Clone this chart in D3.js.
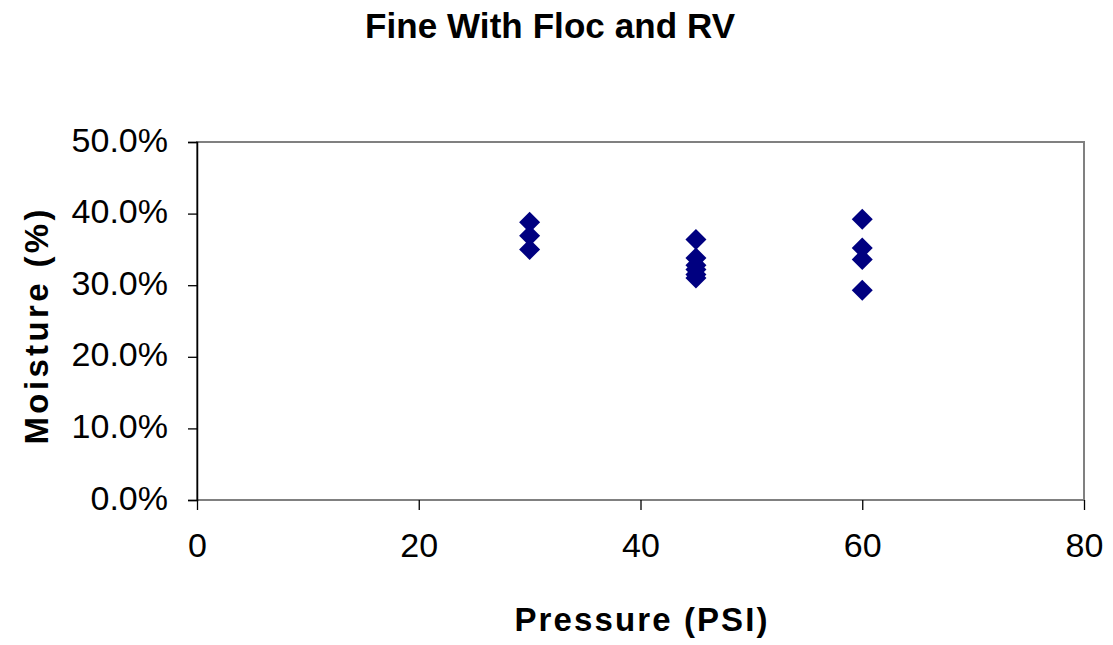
<!DOCTYPE html>
<html>
<head>
<meta charset="utf-8">
<script src="https://cdn.jsdelivr.net/npm/d3@7"></script>
<style>
  html, body { margin: 0; padding: 0; background: #fff; }
  svg { display: block; font-family: "Liberation Sans", Arial, sans-serif; }
</style>
</head>
<body>
<svg id="chart" width="1113" height="645"></svg>
<script>
// Moisture readings (%) at each press pressure (PSI)
const pressure30 = [38.8, 36.9, 35.0];
const pressure45 = [36.4, 33.8, 32.8, 32.2, 31.5, 31.0];
const pressure60 = [39.2, 35.2, 33.6, 29.3];
const pressures = [30, 45, 60];

const xTicks = [0, 20, 40, 60, 80];
const yTicks = [0, 10, 20, 30, 40, 50];

const titleText = "Fine With Floc and RV";
const xTitle = "Pressure (PSI)";
const yTitle = "Moisture (%)";

const points = [pressure30, pressure45, pressure60]
  .flatMap((vals, i) => vals.map(v => ({ x: pressures[i], y: v })));

const svg = d3.select("#chart");
const plot = { left: 197, right: 1084, top: 142, bottom: 500 };

const x = d3.scaleLinear().domain([0, 80]).range([plot.left, plot.right]);
const y = d3.scaleLinear().domain([0, 50]).range([plot.bottom, plot.top]);

// Plot area frame
svg.append("rect")
  .attr("x", plot.left).attr("y", plot.top)
  .attr("width", plot.right - plot.left).attr("height", plot.bottom - plot.top)
  .attr("fill", "none").attr("stroke", "#808080").attr("stroke-width", 2);

// Y axis
const yAxis = svg.append("g")
  .attr("transform", `translate(${plot.left},0)`)
  .call(d3.axisLeft(y).tickValues(yTicks).tickSize(9).tickPadding(20)
    .tickFormat(d => d.toFixed(1) + "%"));
yAxis.select(".domain").attr("stroke", "#000").attr("stroke-width", 1.5);
yAxis.selectAll(".tick line").attr("stroke", "#000").attr("stroke-width", 1.3);
yAxis.selectAll(".tick text")
  .attr("font-size", 34).attr("fill", "#000")
  .attr("font-family", "Liberation Sans, Arial, sans-serif")
  .attr("dy", "0.27em");

// X axis
const xAxis = svg.append("g")
  .attr("transform", `translate(0,${plot.bottom})`)
  .call(d3.axisBottom(x).tickValues(xTicks).tickSize(10).tickPadding(0)
    .tickFormat(d3.format("d")));
xAxis.select(".domain").remove();
xAxis.selectAll(".tick line").attr("stroke", "#000").attr("stroke-width", 1.3);
xAxis.selectAll(".tick text")
  .attr("font-size", 34).attr("fill", "#000")
  .attr("font-family", "Liberation Sans, Arial, sans-serif")
  .attr("y", 57).attr("dy", 0);

// Diamond markers
const r = 10.5;
const diamond = `M0,${-r}L${r},0L0,${r}L${-r},0Z`;
svg.append("g").selectAll("path")
  .data(points)
  .join("path")
  .attr("d", diamond)
  .attr("transform", d => `translate(${x(d.x)},${y(d.y)})`)
  .attr("fill", "#000080");

// Titles
svg.append("text")
  .attr("x", 550).attr("y", 38)
  .attr("text-anchor", "middle")
  .attr("font-size", 35).attr("font-weight", "bold")
  .attr("textLength", 370).attr("lengthAdjust", "spacing")
  .text(titleText);

svg.append("text")
  .attr("x", 641).attr("y", 631)
  .attr("text-anchor", "middle")
  .attr("font-size", 33).attr("font-weight", "bold")
  .attr("textLength", 253).attr("lengthAdjust", "spacing")
  .text(xTitle);

svg.append("text")
  .attr("transform", "translate(48,327) rotate(-90)")
  .attr("text-anchor", "middle")
  .attr("font-size", 33).attr("font-weight", "bold")
  .attr("textLength", 235).attr("lengthAdjust", "spacing")
  .text(yTitle);
</script>
</body>
</html>
